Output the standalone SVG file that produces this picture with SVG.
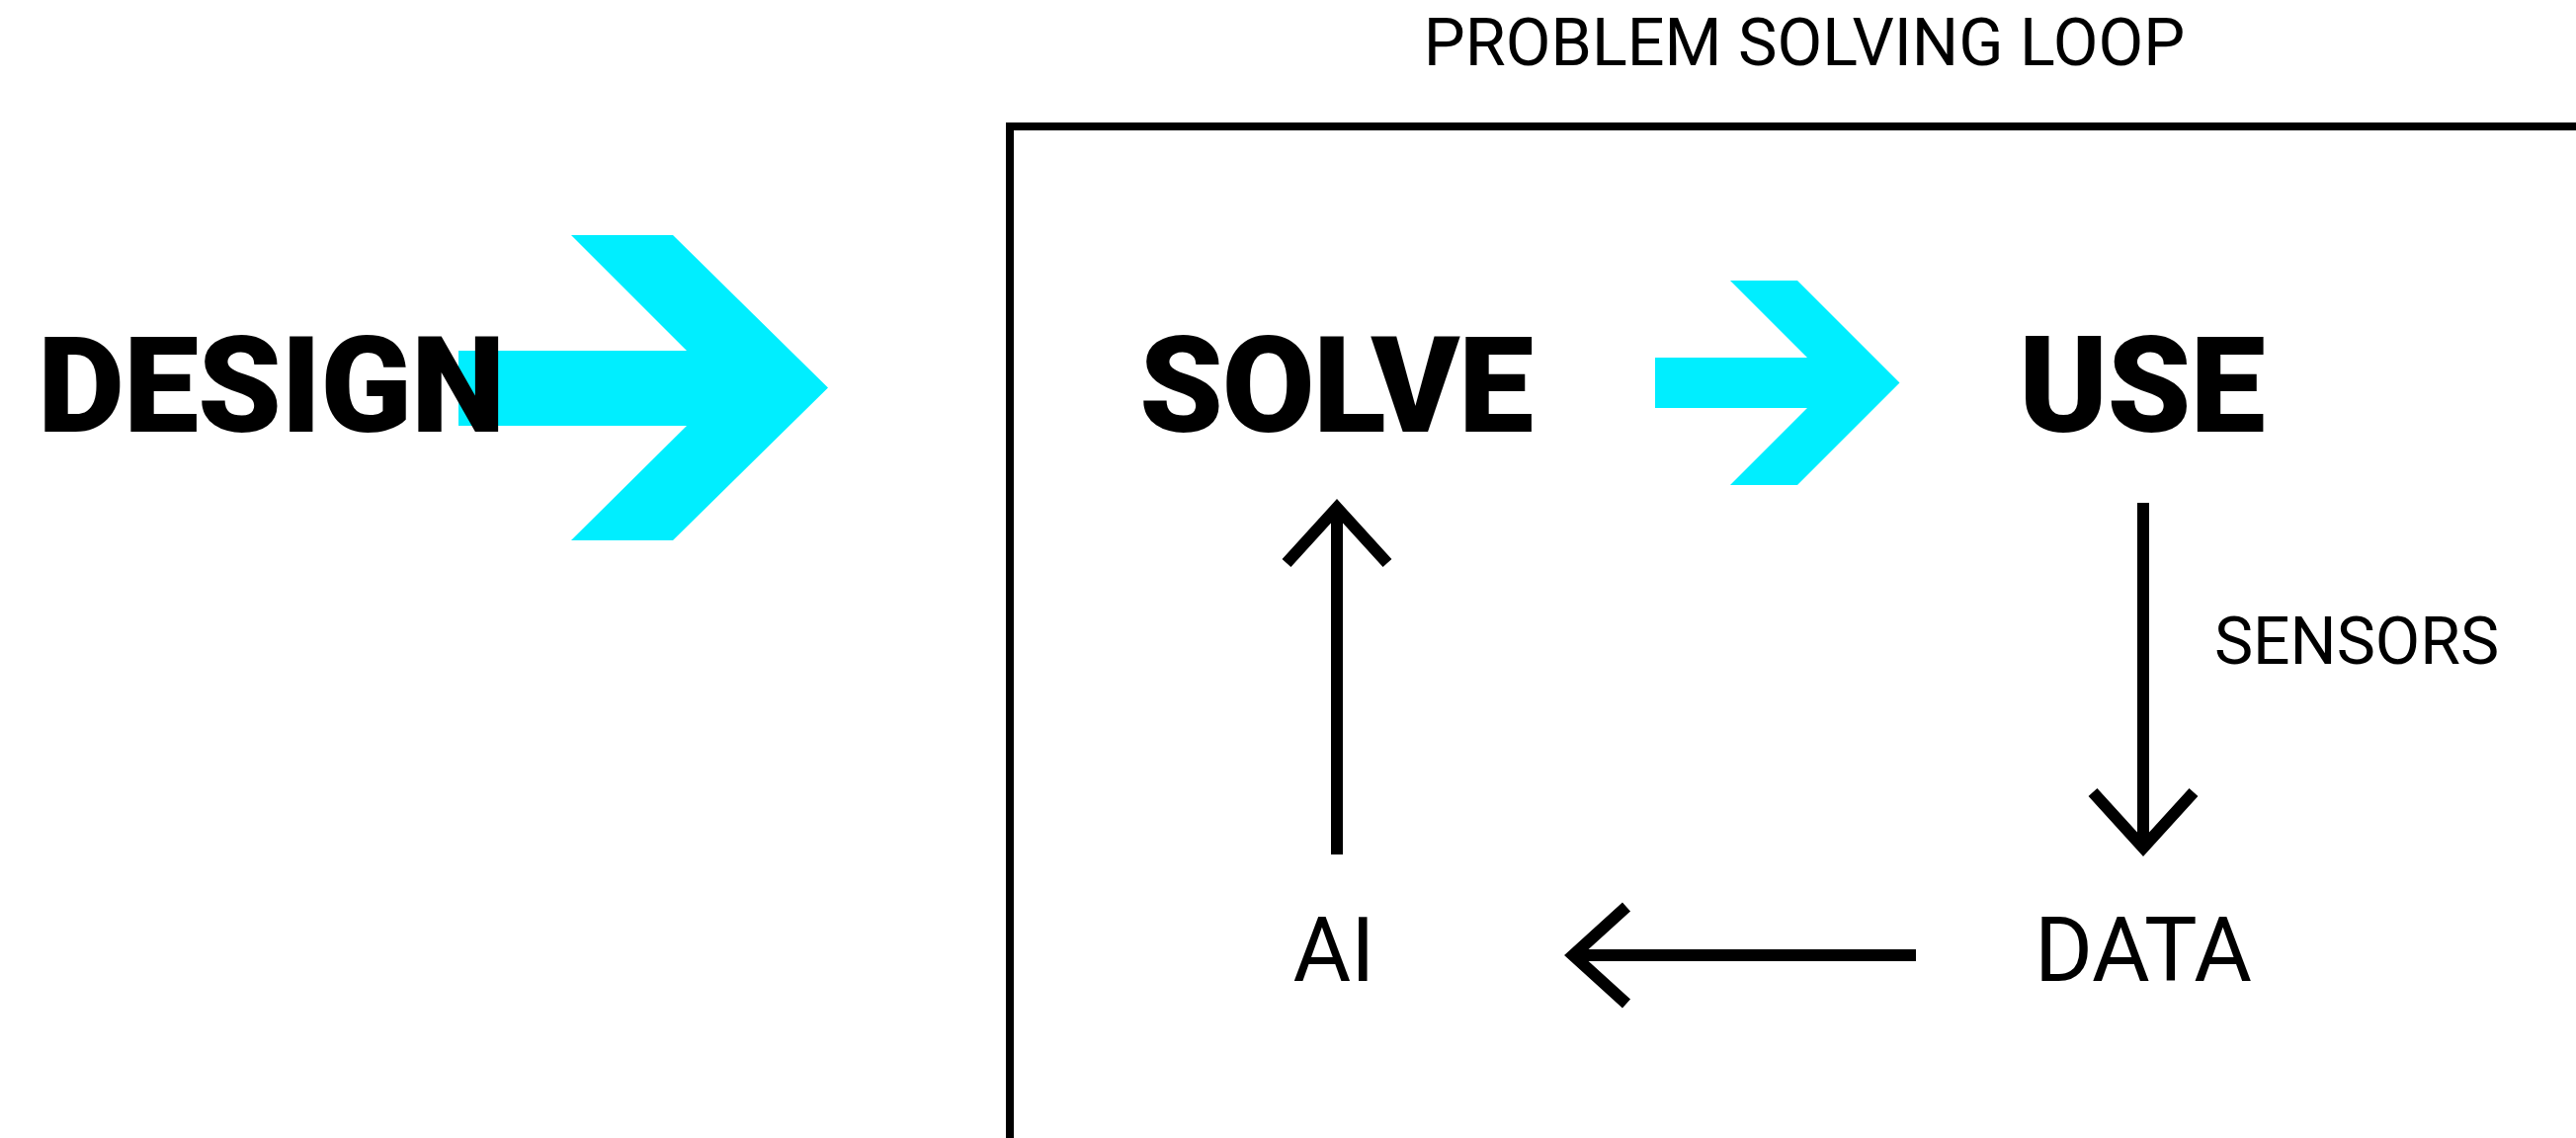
<svg xmlns="http://www.w3.org/2000/svg" width="2607" height="1152" viewBox="0 0 2607 1152">
<style>
.big{font-family:Roboto,"Liberation Sans",sans-serif;font-weight:900;font-size:136px;fill:#000;letter-spacing:-1px}
.lbl{font-family:Roboto,"Liberation Sans",sans-serif;font-weight:400;fill:#000}
.cyan{fill:#00EEFF}
.conn{fill:none;stroke:#000;stroke-width:12}
</style>
<rect width="2607" height="1152" fill="#fff"/>
<g id="frame">
<rect x="1022" y="128" width="1700" height="1100" fill="none" stroke="#000" stroke-width="8"/>
<text class="lbl" x="1826" y="66" font-size="66.5" text-anchor="middle">PROBLEM SOLVING LOOP</text>
</g>
<g id="design-arrow">
<polygon class="cyan" points="464,355 695,355 578,238 681,238 838,392.5 681,547 578,547 695,431 464,431"/>
</g>
<g id="design">
<text class="big" x="38" y="437">DESIGN</text>
</g>
<g id="solve">
<text class="big" x="1153" y="437" style="letter-spacing:-1.5px">SOLVE</text>
</g>
<g id="solve-use-arrow">
<polygon class="cyan" points="1675,362 1829,362 1751,284 1819,284 1922.5,387.5 1819,491 1751,491 1829,413 1675,413"/>
</g>
<g id="use">
<text class="big" x="2043" y="437">USE</text>
</g>
<g id="data">
<text class="lbl" x="2169" y="993" font-size="90" text-anchor="middle">DATA</text>
</g>
<g id="ai">
<text class="lbl" x="1350" y="993" font-size="90" text-anchor="middle">AI</text>
</g>
<g id="connectors">
<line class="conn" x1="2169" y1="509" x2="2169" y2="856"/>
<polyline class="conn" points="2118,802 2169,858 2220,802"/>
<text class="lbl" x="2385" y="672" font-size="66" text-anchor="middle">SENSORS</text>
<line class="conn" x1="1939" y1="967" x2="1596" y2="967" stroke-width="14"/>
<polyline class="conn" points="1646,918 1592,967 1646,1016"/>
<line class="conn" x1="1353" y1="865" x2="1353" y2="518"/>
<polyline class="conn" points="1302,570 1353,514 1404,570"/>
</g>
</svg>
